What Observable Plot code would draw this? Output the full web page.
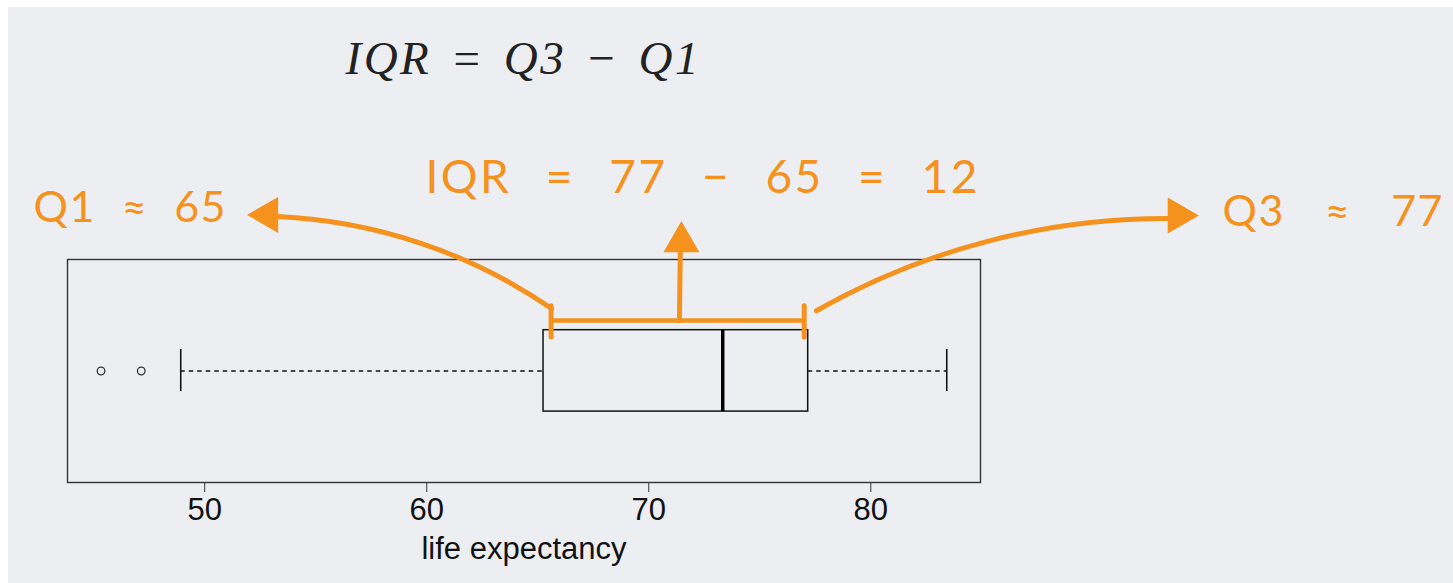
<!DOCTYPE html>
<html><head><meta charset="utf-8">
<script src="https://cdn.jsdelivr.net/npm/d3@7"></script>
<script src="https://cdn.jsdelivr.net/npm/@observablehq/plot@0.6"></script>
<style>
html,body{margin:0;padding:0;background:#fff;overflow:hidden;}
#bg{position:absolute;left:8px;top:7px;width:1445px;height:576px;background:#eceef1;}
#chart{position:absolute;left:0;top:0;}
</style></head><body><div id="bg"></div><div id="chart"></div>
<script>
// ---- data ----
const xTicks = [50, 60, 70, 80];
const quartiles = [65.26, 73.33, 77.18];   // Q1, median, Q3
const whiskers = [48.92, 83.42];           // lower / upper whisker ends
const outliers = [45.33, 47.14];
const bracketEnds = [65.6, 77.0];          // orange bracket marks (≈Q1, ≈Q3)
const axisLabel = "life expectancy";
const titleText = "IQR = Q3 \u2212 Q1";
const noteLeft = "Q1 \u2248 65";
const noteMid = "IQR = 77 \u2212 65 = 12";
const noteRight = "Q3 \u2248 77";

// ---- layout (annotation anchors in scale units) ----
const xDomain = [43.82, 84.94];
const boxY = [0.318, 0.683], capY = [0.408, 0.596], midY = 0.5;
const bracketY = 0.726, bracketTickY = [0.65, 0.79];
const arrowFrom = [[65.62, 0.78], [71.38, 0.726], [77.55, 0.77]];
const arrowTo = [[53.28, 1.193], [71.42, 1.04], [93.50, 1.184]];
const arrowBend = [-16, 0, 15];
const heads = [[52.84, 1.200, -90], [71.47, 1.079, 0], [93.84, 1.197, 90]];

const orange = "#F5921E";
const hand = "Lato, 'Noto Sans', sans-serif";

const arrowMarks = arrowFrom.map((a, i) => Plot.arrow([[a, arrowTo[i]]], {
  x1: d => d[0][0], y1: d => d[0][1], x2: d => d[1][0], y2: d => d[1][1],
  bend: arrowBend[i], headLength: 0, stroke: orange, strokeWidth: 5, strokeLinecap: "round"
}));

const plot = Plot.plot({
  width: 1453, height: 583,
  marginLeft: 67, marginRight: 473, marginTop: 259, marginBottom: 101,
  style: {background: "transparent", fontFamily: "'Liberation Sans', Arial, sans-serif"},
  x: {domain: xDomain},
  y: {domain: [0, 1], axis: null},
  marks: [
    Plot.frame({stroke: "#333", strokeWidth: 1.4}),
    Plot.axisX({ticks: xTicks, tickSize: 10, tickPadding: 5, fontSize: 31, label: null, stroke: "#333", fill: "#111"}),
    Plot.text([axisLabel], {text: d => d, frameAnchor: "bottom", dy: 76, lineAnchor: "bottom", fontSize: 31, fill: "#111"}),
    Plot.ruleY([[whiskers[0], quartiles[0]], [quartiles[2], whiskers[1]]], {x1: d => d[0], x2: d => d[1], y: midY, stroke: "#111", strokeWidth: 1.3, strokeDasharray: "4.5,4"}),
    Plot.ruleX(whiskers, {x: d => d, y1: capY[0], y2: capY[1], stroke: "#111", strokeWidth: 1.6}),
    Plot.rect([quartiles], {x1: d => d[0], x2: d => d[2], y1: boxY[0], y2: boxY[1], fill: "none", stroke: "#111", strokeWidth: 1.5}),
    Plot.ruleX([quartiles[1]], {x: d => d, y1: boxY[0], y2: boxY[1], stroke: "#000", strokeWidth: 3.5}),
    Plot.dot(outliers, {x: d => d, y: midY, r: 3.8, stroke: "#333", strokeWidth: 1.3, fill: "none"}),
    // orange annotations
    Plot.ruleY([bracketEnds], {x1: d => d[0], x2: d => d[1], y: bracketY, stroke: orange, strokeWidth: 4.5}),
    Plot.ruleX(bracketEnds, {x: d => d, y1: bracketTickY[0], y2: bracketTickY[1], stroke: orange, strokeWidth: 5, strokeLinecap: "round"}),
    ...arrowMarks,
    Plot.dot(heads, {x: d => d[0], y: d => d[1], rotate: d => d[2], symbol: "triangle", r: 12.4, fill: orange, stroke: orange, strokeWidth: 1.5}),
    Plot.text([titleText], {text: d => d, x: 56.34, y: 1.834, textAnchor: "start", lineAnchor: "bottom", fontSize: 47, fontFamily: "'Liberation Serif', 'Times New Roman', serif", fontStyle: "italic", fill: "#222"}),
    Plot.text([noteLeft], {text: d => d, x: 42.29, y: 1.166, textAnchor: "start", lineAnchor: "bottom", fontSize: 43, fontFamily: hand, fill: orange}),
    Plot.text([noteMid], {text: d => d, x: 59.94, y: 1.296, textAnchor: "start", lineAnchor: "bottom", fontSize: 46, fontFamily: hand, fill: orange}),
    Plot.text([noteRight], {text: d => d, x: 95.84, y: 1.152, textAnchor: "start", lineAnchor: "bottom", fontSize: 43, fontFamily: hand, fill: orange})
  ]
});
document.getElementById("chart").appendChild(plot);

// spread words so each note spans the width it has in the picture
const spans = [[titleText, 353, 2.5], [noteLeft, 192, 1.5], [noteMid, 552, 2.5], [noteRight, 220, 1.5]];
plot.querySelectorAll("text").forEach(t => {
  const s = spans.find(p => p[0] === t.textContent);
  if (!s) return;
  t.style.letterSpacing = s[2] + "px";
  const w = t.getComputedTextLength() - s[2];
  const n = s[0].split(" ").length - 1;
  t.style.wordSpacing = ((s[1] - w) / n).toFixed(2) + "px";
});
</script></body></html>
